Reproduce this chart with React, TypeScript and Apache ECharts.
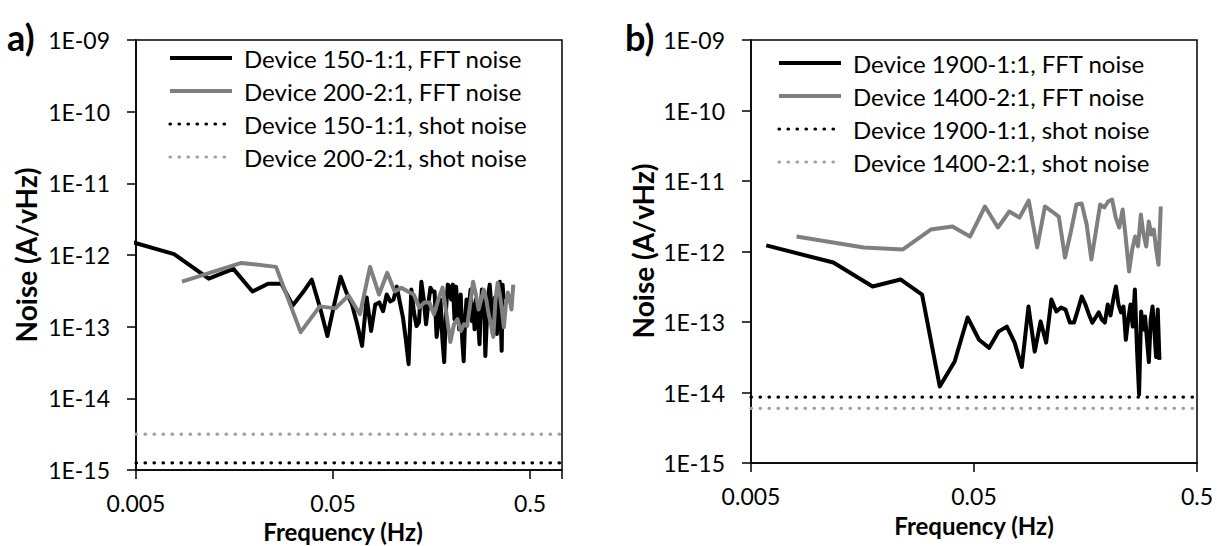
import React, { useEffect, useRef } from "react";
import * as echarts from "echarts";

// ---- axis ranges / ticks ----
const F_REF = 0.005; // left end of both frequency axes (Hz)
const X_MAX_A = 0.726; // right end of panel a axis (Hz)
const X_MAX_B = 0.5; // right end of panel b axis (Hz)
const Y_MIN = 1e-15;
const Y_MAX = 1e-9;
const X_TICKS = ["0.005", "0.05", "0.5"];
const Y_TICKS = ["1E-15", "1E-14", "1E-13", "1E-12", "1E-11", "1E-10", "1E-09"];

// ---- FFT bin spacing (Hz) ----
const DF_A_150 = 0.0039;
const DF_A_200 = 0.00856;
const DF_B_1900 = 0.00585;
const DF_B_1400 = 0.008;

// ---- panel a: FFT noise (A/vHz), one value per FFT bin ----
const fftA150 = [
  1.77e-12, 1.03e-12, 4.67e-13, 6.4e-13, 3.09e-13, 3.98e-13, 3.98e-13, 1.98e-13, 2.99e-13, 4.52e-13,
  1.86e-13, 7.4e-14, 2.04e-13, 4.97e-13, 2.99e-13, 2.04e-13, 1.08e-13, 5.4e-14, 2.55e-13, 8.7e-14,
  2.04e-13, 2.18e-13, 1.64e-13, 2.81e-13, 2.25e-13, 2.4e-13, 3.62e-13, 2.18e-13, 1.35e-13, 6.7e-14,
  3.0e-14, 3.29e-13, 1.59e-13, 1.02e-13, 1.15e-13, 4.24e-13, 2.4e-13, 1.08e-13, 2.04e-13, 3.5e-13,
  3.09e-13, 3.09e-13, 7.2e-14, 1.19e-13, 2.4e-13, 6.7e-14, 3.2e-14, 1.74e-13, 3.86e-13, 3.62e-13,
  2.4e-13, 3.86e-13, 1.27e-13, 3.62e-13, 1.74e-13, 9.2e-14, 2.81e-13, 6.7e-14, 3.3e-14, 1.27e-13,
  2.4e-13, 1.49e-13, 2.25e-13, 3.29e-13, 1.19e-13, 2.04e-13, 9.2e-14, 2.4e-13, 1.49e-13, 1.08e-13,
  5.7e-14, 1.74e-13, 3.29e-13, 1.35e-13, 2.4e-13, 3.9e-14, 9.2e-14, 2.04e-13, 3.09e-13, 3.86e-13,
  2.4e-13, 1.27e-13, 7.9e-14, 1.74e-13, 2.55e-13, 1.49e-13, 7.9e-14, 2.04e-13, 3.29e-13, 4.24e-13,
  1.27e-13, 4.6e-14, 3.86e-13, 2.4e-13,
];
const fftA200 = [
  4.24e-13, 7.76e-13, 6.83e-13, 8.4e-14, 1.92e-13, 1.8e-13, 2.72e-13, 1.49e-13, 6.83e-13, 2.81e-13,
  5.65e-13, 3.09e-13, 3.5e-13, 3.09e-13, 2.81e-13, 1.86e-13, 2.18e-13, 2.18e-13, 1.49e-13, 2.4e-13,
  3.5e-13, 1.49e-13, 6.1e-14, 1.08e-13, 1.27e-13, 8.7e-14, 1.08e-13, 1.02e-13, 2.04e-13, 4.24e-13,
  2.81e-13, 1.74e-13, 2.4e-13, 3.29e-13, 2.4e-13, 1.49e-13, 1.08e-13, 7.2e-14, 2.4e-13, 4.11e-13,
  2.81e-13, 1.74e-13, 9.8e-14, 2.04e-13, 2.99e-13, 2.4e-13, 1.74e-13, 3.86e-13,
];
// ---- panel b: FFT noise ----
const fftB1900 = [
  1.22e-12, 6.98e-13, 3.19e-13, 4.01e-13, 2.45e-13, 1.22e-14, 2.75e-14, 1.16e-13, 5.6e-14, 4.3e-14,
  7.3e-14, 8.6e-14, 5.1e-14, 2.3e-14, 1.66e-13, 3.8e-14, 1.02e-13, 5.1e-14, 2.08e-13, 1.41e-13,
  1.6e-13, 1.5e-13, 9.8e-14, 9.8e-14, 1.5e-13, 2.3e-13, 1.77e-13, 1.28e-13, 9.8e-14, 1.16e-13,
  1.37e-13, 1.08e-13, 9.8e-14, 1.77e-13, 1.24e-13, 2.08e-13, 3.19e-13, 1.77e-13, 1.37e-13, 1.66e-13,
  5.6e-14, 1.08e-13, 1.77e-13, 8.6e-14, 2.89e-13, 4.1e-14, 9.4e-15, 1.41e-13, 7.8e-14, 1.2e-13,
  5.6e-14, 2.7e-14, 1.08e-13, 1.66e-13, 7.8e-14, 3.2e-14, 1.5e-13, 2.9e-14,
];
const fftB1400 = [
  1.63e-12, 1.14e-12, 1.07e-12, 2.05e-12, 2.26e-12, 1.63e-12, 4.35e-12, 2.19e-12, 3.69e-12, 3.03e-12,
  5.29e-12, 1.14e-12, 4.35e-12, 3.69e-12, 3.13e-12, 8.2e-13, 1.92e-12, 4.64e-12, 4.8e-12, 2.41e-12,
  7.7e-13, 1.92e-12, 4.64e-12, 4.21e-12, 5.12e-12, 5.47e-12, 3.03e-12, 2.19e-12, 3.94e-12, 1.48e-12,
  5.2e-13, 1.07e-12, 1.63e-12, 1.18e-12, 3.35e-12, 1.74e-12, 1.18e-12, 2.66e-12, 1.74e-12, 2.05e-12,
  1.07e-12, 6.5e-13, 4.35e-12,
];

// ---- shot noise levels ----
const SHOT_A150 = 1.26e-15;
const SHOT_A200 = 3.16e-15;
const SHOT_B1900 = 8.6e-15;
const SHOT_B1400 = 5.97e-15;

const NAMES_A = [
  "Device 150-1:1, FFT noise",
  "Device 200-2:1, FFT noise",
  "Device 150-1:1, shot noise",
  "Device 200-2:1, shot noise",
];
const NAMES_B = [
  "Device 1900-1:1, FFT noise",
  "Device 1400-2:1, FFT noise",
  "Device 1900-1:1, shot noise",
  "Device 1400-2:1, shot noise",
];

const FONT = "Lato";
const BLACK = "#000000";
const GRAY = "#7f7f7f";
const LIGHT = "#a0a0a0";

const lx = (f: number) => Math.log10(f / F_REF);

function fftData(values: number[], df: number) {
  return values.map((v, i) => [lx((i + 1) * df), v]);
}

export default function App() {
  const ref = useRef<HTMLDivElement>(null);

  useEffect(() => {
    if (!ref.current) return;
    const chart = echarts.init(ref.current, undefined, { renderer: "svg" });
    const axisLineStyle = { color: BLACK, width: 1.5 };

    const mkX = (gi: number, maxLog: number) => ({
      gridIndex: gi,
      type: "value",
      min: 0,
      max: maxLog,
      interval: 1,
      axisLine: { show: true, onZero: false, lineStyle: axisLineStyle },
      axisTick: { show: true, length: 9, lineStyle: axisLineStyle },
      axisLabel: {
        margin: 21,
        color: BLACK,
        fontFamily: FONT,
        fontSize: 23,
        formatter: (v: number) => {
          const r = Math.round(v);
          if (Math.abs(v - r) > 1e-6) return "";
          return X_TICKS[r] ?? "";
        },
      },
      splitLine: { show: false },
    });
    const mkY = (gi: number) => ({
      gridIndex: gi,
      type: "log",
      logBase: 10,
      min: Y_MIN,
      max: Y_MAX,
      splitNumber: 6,
      axisLine: { show: true, onZero: false, lineStyle: axisLineStyle },
      axisTick: { show: true, length: 9, lineStyle: axisLineStyle },
      axisLabel: {
        margin: 26,
        color: BLACK,
        fontFamily: FONT,
        fontSize: 23,
        formatter: (v: number) => Y_TICKS[Math.round(Math.log10(v)) + 15] ?? "",
      },
      splitLine: { show: false },
      minorTick: { show: false },
    });

    const solid = (name: string, gi: number, data: number[][], color: string) => ({
      name,
      type: "line",
      xAxisIndex: gi,
      yAxisIndex: gi,
      data,
      symbol: "none",
      showSymbol: false,
      clip: true,
      lineStyle: { color, width: 4, join: "round" },
      itemStyle: { color },
    });
    const dotted = (name: string, gi: number, level: number, maxLog: number, color: string) => ({
      name,
      type: "line",
      xAxisIndex: gi,
      yAxisIndex: gi,
      data: [
        [0, level],
        [maxLog, level],
      ],
      symbol: "none",
      showSymbol: false,
      lineStyle: { color, width: 3.2, type: [0.5, 8.5], cap: "round" },
      itemStyle: { color },
    });

    const maxA = lx(X_MAX_A);
    const maxB = lx(X_MAX_B);

    const legendBase = {
      orient: "vertical",
      padding: 0,
      itemWidth: 62,
      itemHeight: 14,
      itemGap: 9,
      itemStyle: { opacity: 0 },
      lineStyle: { width: "inherit" },
      textStyle: {
        fontFamily: FONT,
        fontSize: 24,
        lineHeight: 24,
        color: BLACK,
        padding: [0, 0, 0, 7],
      },
    };

    const text = (t: string, x: number, y: number, size: number, rotate = false, align = "center") => ({
      type: "text",
      x,
      y,
      rotation: rotate ? Math.PI / 2 : 0,
      style: {
        text: t,
        fill: BLACK,
        font: `bold ${size}px ${FONT}`,
        textAlign: align,
        textVerticalAlign: "middle",
      },
    });

    chart.setOption({
      animation: false,
      backgroundColor: "#ffffff",
      grid: [
        { left: 136, top: 40, width: 426, height: 430, show: true, borderColor: BLACK, borderWidth: 1.5 },
        { left: 751, top: 40, width: 446, height: 423, show: true, borderColor: BLACK, borderWidth: 1.5 },
      ],
      xAxis: [mkX(0, maxA), mkX(1, maxB)],
      yAxis: [mkY(0), mkY(1)],
      legend: [
        { ...legendBase, left: 168, top: 46, data: NAMES_A },
        { ...legendBase, left: 777, top: 51, data: NAMES_B },
      ],
      series: [
        solid(NAMES_A[0], 0, fftData(fftA150, DF_A_150), BLACK),
        solid(NAMES_A[1], 0, fftData(fftA200, DF_A_200), GRAY),
        dotted(NAMES_A[2], 0, SHOT_A150, maxA, BLACK),
        dotted(NAMES_A[3], 0, SHOT_A200, maxA, LIGHT),
        solid(NAMES_B[0], 1, fftData(fftB1900, DF_B_1900), BLACK),
        solid(NAMES_B[1], 1, fftData(fftB1400, DF_B_1400), GRAY),
        dotted(NAMES_B[2], 1, SHOT_B1900, maxB, BLACK),
        dotted(NAMES_B[3], 1, SHOT_B1400, maxB, LIGHT),
      ],
      graphic: [
        text("a)", 7, 37, 36, false, "left"),
        text("b)", 625, 37, 36, false, "left"),
        text("Noise (A/vHz)", 26, 255, 28, true),
        text("Noise (A/vHz)", 643, 251, 28, true),
        text("Frequency (Hz)", 343, 531, 24),
        text("Frequency (Hz)", 974, 525, 24),
      ],
    } as any);

    return () => chart.dispose();
  }, []);

  return (
    <div
      ref={ref}
      style={{ position: "absolute", left: 0, top: 0, width: 1217, height: 546 }}
    />
  );
}
